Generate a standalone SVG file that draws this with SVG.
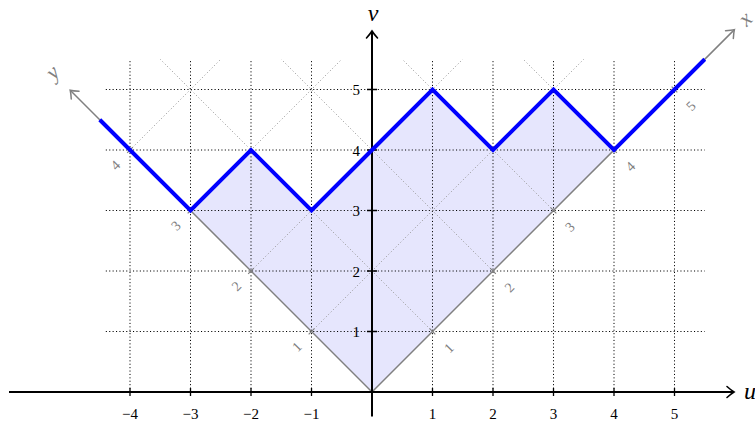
<svg xmlns="http://www.w3.org/2000/svg" width="755" height="425" viewBox="0 0 755 425">
<style>
.grid{stroke:#000;stroke-width:1;stroke-dasharray:1.1 2.3;fill:none}
.diag{stroke:#9a9a9a;stroke-width:1;stroke-dasharray:1.1 2.3;fill:none}
.gax{stroke:#808080;stroke-width:1.5;fill:none}
.bax{stroke:#000;stroke-width:2;fill:none}
.tk{stroke:#000;stroke-width:1.3}
.gtk{stroke:#808080;stroke-width:1.2}
text{font-family:"Liberation Serif","DejaVu Serif",serif}
.num{font-size:15px;fill:#000}
.gnum{font-size:14px;fill:#808080;text-anchor:middle}
.lab{font-style:italic;font-size:24px;fill:#000}
.glab{font-style:italic;font-size:22px;fill:#808080}
</style>
<defs>
<marker id="ab" markerUnits="userSpaceOnUse" markerWidth="20" markerHeight="20" refX="0" refY="0" orient="auto" overflow="visible">
<path d="M -7 -5.5 Q -2.5 -1.5 0 0 Q -2.5 1.5 -7 5.5" fill="none" stroke="#000" stroke-width="1.6" stroke-linecap="round"/>
</marker>
<marker id="ag" markerUnits="userSpaceOnUse" markerWidth="20" markerHeight="20" refX="0" refY="0" orient="auto" overflow="visible">
<path d="M -7 -5.5 Q -2.5 -1.5 0 0 Q -2.5 1.5 -7 5.5" fill="none" stroke="#808080" stroke-width="1.5" stroke-linecap="round"/>
</marker>
</defs>

<g id="fill">
<polygon points="372,392 190.5,210.5 251,150 311.5,210.5 372,150 432.5,89.5 493,150 553.5,89.5 614,150" fill="#e6e6fd"/>
</g>

<g id="grid">
<path class="grid" d="M130 392V59.25M190.5 392V59.25M251 392V59.25M311.5 392V59.25M432.5 392V59.25M493 392V59.25M553.5 392V59.25M614 392V59.25M674.5 392V59.25"/>
<path class="grid" d="M105.8 331.5H704.75M105.8 271H704.75M105.8 210.5H704.75M105.8 150H704.75M105.8 89.5H704.75"/>
</g>

<g id="diagonal-grid">
<path class="diag" d="M432.5 331.5L160.25 59.25M493 271L281.25 59.25M553.5 210.5L402.25 59.25M614 150L523.25 59.25"/>
<path class="diag" d="M311.5 331.5L583.75 59.25M251 271L462.75 59.25M190.5 210.5L341.75 59.25M130 150L220.75 59.25"/>
</g>

<g id="xy-axes" transform="translate(372 392) rotate(-45)">
<line class="gax" x1="0" y1="0" x2="512.5" y2="0" marker-end="url(#ag)"/>
<line class="gax" x1="0" y1="0" x2="0" y2="-426.8" marker-end="url(#ag)"/>
<path class="gtk" d="M85.56 -4V4M171.12 -4V4M256.68 -4V4M342.24 -4V4M427.8 -4V4"/>
<path class="gtk" d="M-4 -85.56H4M-4 -171.12H4M-4 -256.68H4M-4 -342.24H4"/>
<text class="gnum" x="85.56" y="28">1</text>
<text class="gnum" x="171.12" y="28">2</text>
<text class="gnum" x="256.68" y="28">3</text>
<text class="gnum" x="342.24" y="28">4</text>
<text class="gnum" x="427.8" y="28">5</text>
<text class="gnum" x="-21" y="-80.5">1</text>
<text class="gnum" x="-21" y="-166">2</text>
<text class="gnum" x="-21" y="-251.6">3</text>
<text class="gnum" x="-21" y="-337.2">4</text>
<text class="glab" x="523" y="7">x</text>
<text class="glab" x="0" y="-445" text-anchor="middle">y</text>
</g>

<g id="uv-axes">
<line class="bax" x1="9" y1="392" x2="734" y2="392" marker-end="url(#ab)"/>
<line class="bax" x1="372" y1="416.5" x2="372" y2="31" marker-end="url(#ab)"/>
<path class="tk" d="M130 388V396M190.5 388V396M251 388V396M311.5 388V396M432.5 388V396M493 388V396M553.5 388V396M614 388V396M674.5 388V396"/>
<path class="tk" d="M367 331.5H377M367 271H377M367 210.5H377M367 150H377M367 89.5H377"/>
<g class="num" text-anchor="middle">
<text x="130" y="419">−4</text>
<text x="190.5" y="419">−3</text>
<text x="251" y="419">−2</text>
<text x="311.5" y="419">−1</text>
<text x="432.5" y="419">1</text>
<text x="493" y="419">2</text>
<text x="553.5" y="419">3</text>
<text x="614" y="419">4</text>
<text x="674.5" y="419">5</text>
</g>
<g class="num" text-anchor="end">
<text x="360" y="337">1</text>
<text x="360" y="276.5">2</text>
<text x="360" y="216">3</text>
<text x="360" y="155.5">4</text>
<text x="360" y="95">5</text>
</g>
<text class="lab" x="373" y="21" text-anchor="middle">v</text>
<text class="lab" x="744" y="399">u</text>
</g>

<g id="path">
<polyline points="99.75,119.75 190.5,210.5 251,150 311.5,210.5 372,150 432.5,89.5 493,150 553.5,89.5 614,150 704.75,59.25" fill="none" stroke="#0000ff" stroke-width="4"/>
</g>
</svg>
